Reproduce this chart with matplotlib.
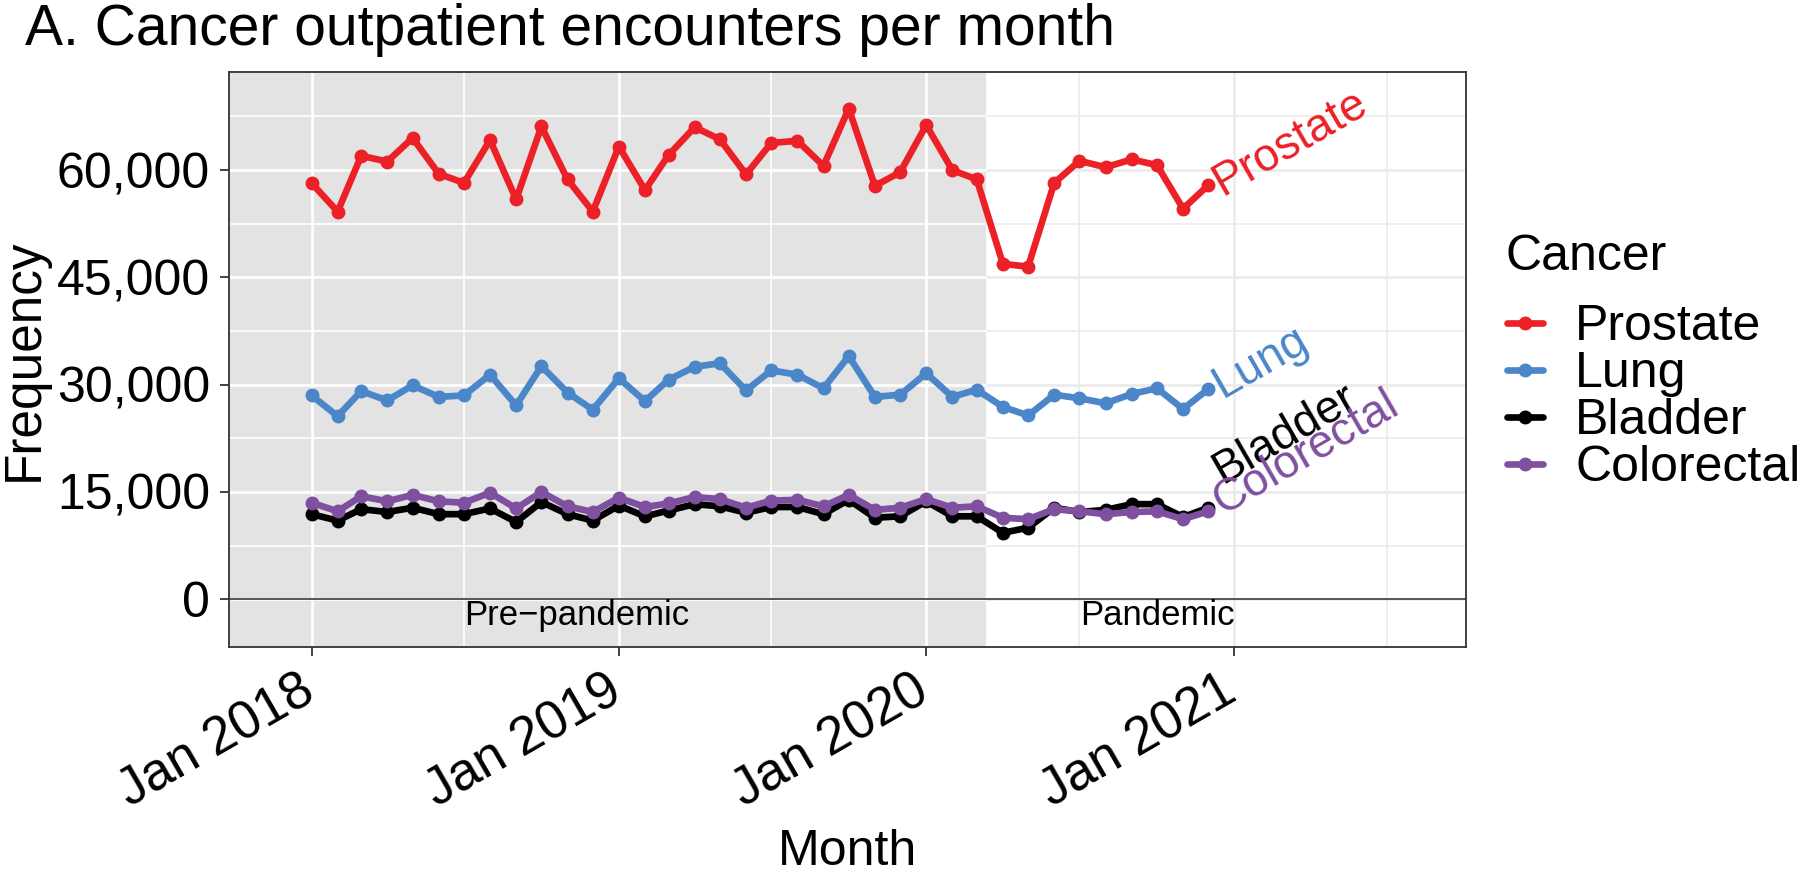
import pandas as pd
import matplotlib
matplotlib.use("Agg")
import matplotlib.pyplot as plt
import matplotlib.dates as mdates
import matplotlib.transforms as mtransforms
from matplotlib.ticker import FuncFormatter, MultipleLocator

plt.rcParams['font.family'] = ['Liberation Sans', 'DejaVu Sans']

# monthly outpatient encounters, Jan 2018 - Dec 2020
months = pd.date_range('2018-01-01', periods=36, freq='MS')
prostate = [58200, 54200, 62000, 61200, 64500, 59500, 58200, 64200, 55900, 66100, 58700, 54200,
            63300, 57200, 62100, 66000, 64300, 59400, 63800, 64100, 60600, 68600, 57800, 59700,
            66300, 60000, 58700, 46900, 46500, 58200, 61300, 60400, 61500, 60700, 54600, 57900]
lung = [28500, 25600, 29100, 27800, 29900, 28300, 28500, 31400, 27100, 32600, 28900, 26500,
        30900, 27700, 30700, 32500, 33000, 29200, 32000, 31400, 29500, 34000, 28300, 28600,
        31600, 28300, 29300, 26900, 25700, 28600, 28100, 27400, 28700, 29500, 26600, 29400]
bladder = [11900, 11000, 12600, 12200, 12800, 11900, 11900, 12700, 10800, 13600, 11900, 11000,
           13100, 11600, 12400, 13300, 13000, 12100, 12900, 12900, 11900, 13900, 11400, 11600,
           13700, 11600, 11600, 9300, 10000, 12800, 12200, 12500, 13300, 13300, 11500, 12800]
colorectal = [13500, 12300, 14400, 13700, 14600, 13700, 13500, 14900, 12700, 15000, 13000, 12200,
              14200, 12900, 13400, 14300, 14000, 12800, 13800, 13900, 13000, 14600, 12500, 12800,
              14000, 12800, 13000, 11400, 11200, 12600, 12300, 11900, 12200, 12300, 11200, 12300]

cancers = ['Prostate', 'Lung', 'Bladder', 'Colorectal']
series = [prostate, lung, bladder, colorectal]
colors = ['#EC2027', '#4A86C8', '#000000', '#7F4FA0']
label_dy = [-8, -7, 17, -3]  # points, nudges for end labels

pandemic_start = pd.Timestamp('2020-03-12')
periods = ['Pre\u2212pandemic', 'Pandemic']
period_x = [pd.Timestamp('2018-11-12'), pd.Timestamp('2020-10-01')]

fig = plt.figure(figsize=(18, 8.74), dpi=100)
ax = fig.add_axes([229/1800, 1 - 647/874, (1466 - 229)/1800, (647 - 71.7)/874])

xlo = mdates.date2num(pd.Timestamp('2017-09-25'))
xhi = mdates.date2num(pd.Timestamp('2021-10-03'))
ylo, yhi = -6670, 73760
ax.set_xlim(xlo, xhi)
ax.set_ylim(ylo, yhi)

ax.xaxis.set_major_locator(mdates.YearLocator())
ax.xaxis.set_minor_locator(mdates.MonthLocator(bymonth=7))
ax.xaxis.set_major_formatter(mdates.DateFormatter('%b %Y'))
ax.yaxis.set_major_locator(MultipleLocator(15000))
ax.yaxis.set_minor_locator(MultipleLocator(7500))
ax.yaxis.set_major_formatter(FuncFormatter(lambda v, p: f'{v:,.0f}'))

# theme_bw-ish grid
ax.set_axisbelow(True)
ax.grid(which='major', color='#EBEBEB', lw=1.9)
ax.grid(which='minor', color='#EBEBEB', lw=1.2)

# pre-pandemic shading, with white grid on top of it
xs = mdates.date2num(pandemic_start)
ax.axvspan(xlo, xs, color='#E3E3E3', lw=0, zorder=0.6)
for y in ax.yaxis.get_majorticklocs():
    if ylo < y < yhi:
        ax.hlines(y, xlo, xs, color='white', lw=1.9, zorder=0.7)
for y in ax.yaxis.get_minorticklocs():
    if ylo < y < yhi:
        ax.hlines(y, xlo, xs, color='white', lw=1.2, zorder=0.7)
for xv in ax.xaxis.get_majorticklocs():
    if xlo < xv < xs:
        ax.vlines(xv, ylo, yhi, color='white', lw=1.9, zorder=0.7)
for xv in ax.xaxis.get_minorticklocs():
    if xlo < xv < xs:
        ax.vlines(xv, ylo, yhi, color='white', lw=1.2, zorder=0.7)

ax.axhline(0, color='#555555', lw=1.4, zorder=1)

x = mdates.date2num(months)
for name, vals, c, dy in zip(cancers, series, colors, label_dy):
    ax.plot(x, vals, color=c, lw=4.8, marker='o', ms=9, label=name, zorder=3,
            solid_joinstyle='round', solid_capstyle='round')
    ax.annotate(name, (x[-1], vals[-1]), xytext=(10, dy), textcoords='offset points',
                rotation=30, rotation_mode='anchor', ha='left', va='baseline',
                color=c, fontsize=33, zorder=4)

for lab, px in zip(periods, period_x):
    ax.text(mdates.date2num(px), -2300, lab, ha='center', va='center', fontsize=25)

for sp in ax.spines.values():
    sp.set_color('#333333')
    sp.set_linewidth(1.3)
ax.tick_params(which='major', length=6.5, width=1.3, color='#333333', labelsize=36, pad=7)
ax.tick_params(axis='x', which='major', labelsize=38)
ax.tick_params(which='minor', length=0)
shift = mtransforms.ScaledTranslation(0.11, 0, fig.dpi_scale_trans)
for lbl in ax.get_xticklabels():
    lbl.set_rotation(30)
    lbl.set_ha('right')
    lbl.set_transform(lbl.get_transform() + shift)

ax.set_xlabel('Month', fontsize=36, labelpad=8)
ax.set_ylabel('Frequency', fontsize=37, labelpad=6)

fig.text(25/1800, 1 - 45/874, 'A. Cancer outpatient encounters per month',
         fontsize=41, ha='left', va='baseline')

fig.text(1505/1800, 1 - 270/874, 'Cancer', fontsize=36, ha='left', va='baseline')
handles, labels = ax.get_legend_handles_labels()
fig.legend(handles, labels, loc='upper left', bbox_to_anchor=(1507/1800, 1 - 304/874),
           frameon=False, fontsize=36, handlelength=0.72, handletextpad=0.64,
           labelspacing=0.02, borderpad=0, borderaxespad=0)

fig.savefig('out.png', dpi=100)
